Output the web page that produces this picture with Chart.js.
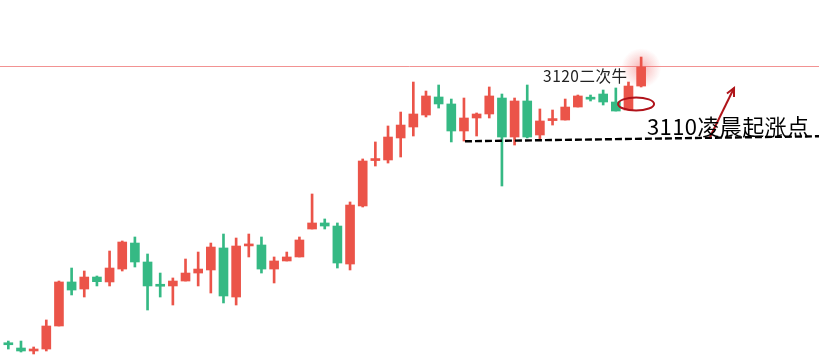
<!DOCTYPE html>
<html>
<head>
<meta charset="utf-8">
<script src="https://cdn.jsdelivr.net/npm/chart.js@4"></script>
<style>
html,body{margin:0;padding:0;background:#fff;}
#wrap{width:819px;height:356px;position:relative;}
</style>
</head>
<body>
<div id="wrap"><canvas id="c"></canvas></div>
<script>
const opens  = [3081.80,3081.10,3080.69,3080.96,3084.13,3090.19,3089.22,3090.87,3090.19,3091.97,3095.55,3092.94,3089.85,3089.64,3090.32,3091.42,3091.84,3094.87,3088.12,3095.15,3095.28,3091.97,3093.08,3093.63,3097.48,3098.31,3097.89,3092.66,3100.65,3106.90,3106.98,3110.01,3111.52,3113.17,3115.65,3114.69,3110.97,3112.76,3113.31,3115.51,3110.14,3115.10,3110.42,3112.40,3112.48,3114.27,3115.60,3116.06,3114.96,3113.86,3117.16];
const closes = [3081.55,3080.69,3080.96,3084.13,3090.19,3089.08,3090.87,3090.23,3092.11,3095.69,3092.94,3089.64,3089.60,3090.32,3091.42,3091.97,3095.00,3088.26,3095.14,3095.40,3091.97,3093.08,3093.63,3095.97,3098.31,3097.89,3092.80,3100.78,3106.84,3107.15,3110.14,3111.79,3113.31,3115.79,3114.69,3110.97,3112.76,3113.31,3115.79,3110.14,3115.10,3110.14,3112.35,3112.65,3114.27,3115.79,3115.35,3114.96,3113.72,3117.16,3119.78];
const highs  = [3082.06,3082.06,3081.24,3084.96,3090.32,3092.11,3091.70,3091.01,3094.45,3095.83,3096.38,3094.04,3091.42,3090.74,3093.35,3094.31,3095.55,3096.79,3096.24,3096.79,3096.38,3093.63,3094.31,3096.38,3102.30,3098.86,3098.31,3101.20,3107.12,3109.46,3111.66,3113.58,3117.71,3116.47,3117.30,3115.37,3115.51,3113.45,3117.03,3116.06,3115.51,3117.30,3114.00,3113.86,3115.37,3115.92,3115.92,3116.61,3116.89,3117.71,3121.15];
const lows   = [3080.96,3080.55,3080.28,3080.69,3084.13,3088.40,3088.12,3089.64,3089.64,3091.70,3092.25,3086.33,3088.12,3087.02,3090.32,3089.64,3088.67,3087.30,3087.02,3093.63,3091.42,3090.05,3093.08,3093.63,3097.48,3097.48,3092.11,3091.84,3100.51,3106.15,3106.56,3107.39,3110.28,3112.90,3114.13,3109.46,3109.59,3110.28,3112.76,3103.40,3109.04,3110.01,3109.73,3111.79,3112.48,3114.27,3115.10,3114.55,3113.72,3113.86,3117.03];
const totalSlots = 64;
const labels = Array.from({length: totalSlots}, (_, i) => String(i + 1));

const RED = '#EB5449', GREEN = '#35B984';
const bodies = opens.map((o, i) => [o, closes[i]]);
const wicks = lows.map((l, i) => [l, highs[i]]);
const colorOf = ctx => {
  const i = ctx.dataIndex;
  if (i >= opens.length) return RED;
  return closes[i] >= opens[i] ? RED : GREEN;
};

const annot = {
  id: 'annot',
  beforeDatasetsDraw(chart) {
    const {ctx} = chart, x = chart.scales.x, y = chart.scales.y;
    const gx = x.getPixelForValue(50), gy = y.getPixelForValue(3119.6);
    const g = ctx.createRadialGradient(gx, gy, 0, gx, gy, 20);
    g.addColorStop(0, 'rgba(240,90,90,0.45)');
    g.addColorStop(1, 'rgba(240,90,90,0)');
    ctx.save();
    ctx.fillStyle = g;
    ctx.fillRect(gx - 22, gy - 22, 44, 44);
    const hy = Math.round(y.getPixelForValue(3119.9)) + 0.5;
    ctx.strokeStyle = 'rgba(238,110,110,0.75)';
    ctx.lineWidth = 1;
    ctx.beginPath(); ctx.moveTo(0, hy); ctx.lineTo(chart.width, hy); ctx.stroke();
    ctx.restore();
  },
  afterDatasetsDraw(chart) {
    const {ctx} = chart, x = chart.scales.x, y = chart.scales.y;
    ctx.save();
    ctx.strokeStyle = '#000';
    ctx.lineWidth = 2.4;
    ctx.setLineDash([7, 3]);
    ctx.beginPath();
    ctx.moveTo(x.getPixelForValue(36.08), y.getPixelForValue(3109.55));
    ctx.lineTo(x.getPixelForValue(64.2), y.getPixelForValue(3110.25));
    ctx.stroke();
    ctx.setLineDash([]);
    ctx.strokeStyle = '#B0121A';
    ctx.lineWidth = 2;
    ctx.beginPath();
    ctx.ellipse(x.getPixelForValue(49.6), y.getPixelForValue(3114.69), 18, 6.5, 0, 0, Math.PI * 2);
    ctx.stroke();
    const ax1 = x.getPixelForValue(55.44), ay1 = y.getPixelForValue(3110.14);
    const ax2 = x.getPixelForValue(57.34), ay2 = y.getPixelForValue(3116.89);
    ctx.strokeStyle = '#B0151A';
    ctx.lineWidth = 2;
    ctx.beginPath(); ctx.moveTo(ax1, ay1); ctx.lineTo(ax2, ay2); ctx.stroke();
    const ang = Math.atan2(ay2 - ay1, ax2 - ax1);
    ctx.beginPath();
    ctx.moveTo(ax2 - 9 * Math.cos(ang - 0.45), ay2 - 9 * Math.sin(ang - 0.45));
    ctx.lineTo(ax2, ay2);
    ctx.lineTo(ax2 - 9 * Math.cos(ang + 0.45), ay2 - 9 * Math.sin(ang + 0.45));
    ctx.stroke();
    ctx.textBaseline = 'middle';
    ctx.textAlign = 'left';
    ctx.fillStyle = '#222';
    ctx.font = '15.5px "Noto Sans CJK SC", "DejaVu Sans", sans-serif';
    ctx.letterSpacing = '0.5px';
    ctx.fillText('3120二次牛', x.getPixelForValue(42.25), y.getPixelForValue(3118.5));
    ctx.fillStyle = '#000';
    ctx.font = '22px "Noto Sans CJK SC", "DejaVu Sans", sans-serif';
    ctx.letterSpacing = '0.4px';
    ctx.fillText('3110凌晨起涨点', x.getPixelForValue(50.46), y.getPixelForValue(3111.6));
    ctx.restore();
  }
};

new Chart(document.getElementById('c'), {
  type: 'bar',
  data: {
    labels,
    datasets: [
      {label: 'body', data: bodies, backgroundColor: colorOf, barThickness: 9, grouped: false, order: 0, borderWidth: 0, borderSkipped: false, minBarLength: 2},
      {label: 'wick', data: wicks, backgroundColor: colorOf, barThickness: 2, grouped: false, order: 1, borderWidth: 0, borderSkipped: false}
    ]
  },
  options: {
    responsive: true,
    maintainAspectRatio: false,
    animation: false,
    layout: {padding: {left: 2, right: 7, top: 0, bottom: 0}},
    plugins: {legend: {display: false}, tooltip: {enabled: false}},
    scales: {
      x: {display: false, offset: true},
      y: {display: false, min: 3080, max: 3129}
    }
  },
  plugins: [annot]
});
</script>
</body>
</html>
